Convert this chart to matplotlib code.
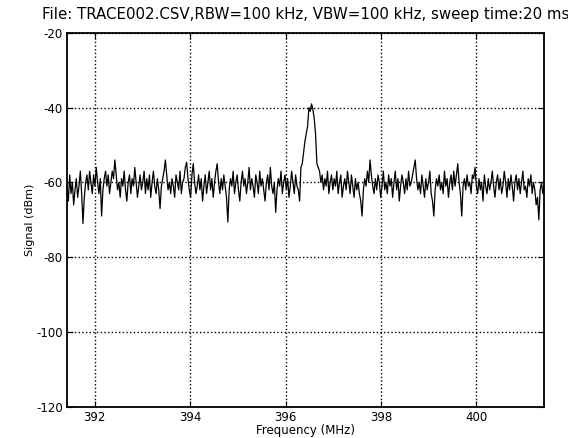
import numpy as np
import matplotlib
matplotlib.use("Agg")
import matplotlib.pyplot as plt

plt.rcParams["axes.unicode_minus"] = False

# trace (dBm), evenly spaced over the span
f_start = 391.42
f_stop = 401.42
level = [
    -61, -65, -58, -63, -60, -66, -62, -59, -64, -61, -57, -63, -71, -64, -60, -58, -62, -57, -60, -63,
    -58, -61, -56, -60, -63, -59, -69, -62, -59, -57, -61, -58, -63, -60, -57, -59, -54, -58, -62, -60,
    -64, -59, -61, -57, -62, -65, -60, -58, -63, -59, -61, -56, -60, -64, -61, -58, -62, -60, -57, -63,
    -59, -62, -58, -64, -60, -57, -61, -63, -59, -62, -67, -61, -59, -57, -54, -58, -62, -60, -63, -59,
    -61, -64, -58, -60, -62, -57, -63, -60, -59, -56, -54.6, -59, -62, -64, -58, -55, -60, -63, -61, -58,
    -62, -59, -65, -61, -58, -63, -60, -57, -62, -59, -64, -60, -57, -55, -60, -63, -59, -62, -58, -61,
    -64, -70.6, -62, -59, -61, -57, -63, -60, -58, -62, -65, -60, -57, -61, -59, -63, -60, -56, -62, -59,
    -61, -64, -58, -60, -63, -57, -61, -59, -62, -65, -60, -58, -62, -56, -61, -63, -60, -68, -62, -59,
    -61, -57, -63, -60, -58, -62, -59, -64, -61, -57, -60, -63, -58, -61, -62, -65, -56, -55, -52, -49,
    -47, -45, -40, -41, -39, -40.5, -43, -47, -55, -56, -57, -60, -58, -62, -59, -61, -57, -63, -60, -58,
    -62, -59, -61, -57, -63, -60, -58, -64, -61, -59, -62, -57, -60, -63, -58, -61, -64, -59, -62, -60,
    -63, -65, -69, -62, -59, -61, -57, -60, -54, -58, -61, -63, -59, -62, -58, -60, -64, -61, -57, -62,
    -60, -63, -58, -61, -59, -64, -60, -57, -62, -59, -65, -61, -58, -60, -63, -59, -62, -57, -61, -60,
    -58, -56, -54, -59, -62, -60, -63, -58, -61, -64, -59, -62, -60, -57, -63, -65, -69, -62, -59, -61,
    -58, -62, -60, -63, -57, -61, -59, -64, -60, -58, -62, -57, -61, -58, -55, -60, -63, -69, -61, -59,
    -62, -58, -61, -60, -63, -58, -59, -56, -61, -63, -59, -62, -60, -65, -58, -61, -63, -59, -62, -60,
    -57, -61, -64, -60, -58, -62, -59, -63, -61, -57, -60, -64, -59, -62, -58, -61, -65, -60, -58, -62,
    -59, -63, -60, -57, -62, -61, -64, -59, -61, -58, -63, -60, -62, -66, -64, -70, -62, -60, -63, -61,
]
freq = np.linspace(f_start, f_stop, len(level))

xticks = [392, 394, 396, 398, 400]
yticks = [-20, -40, -60, -80, -100, -120]

fig = plt.figure(figsize=(5.68, 4.38), dpi=100)
ax = fig.add_axes([0.118, 0.0715, 0.840, 0.8535])
ax.plot(freq, level, color="black", lw=0.9)

ax.set_xlim(f_start, f_stop)
ax.set_ylim(-120, -20)
ax.set_xticks(xticks)
ax.set_yticks(yticks)
ax.grid(True, color="black", linestyle=":", lw=1)
ax.tick_params(direction="in", top=True, right=True, labelsize=8.5, length=4, pad=3)
for s in ax.spines.values():
    s.set_linewidth(1.3)

ax.set_title("File: TRACE002.CSV,RBW=100 kHz, VBW=100 kHz, sweep time:20 ms", fontsize=10.8, pad=10)
ax.set_xlabel("Frequency (MHz)", fontsize=8.5, labelpad=0)
ax.set_ylabel("Signal (dBm)", fontsize=8, labelpad=1)

fig.savefig("out.png", dpi=100)
